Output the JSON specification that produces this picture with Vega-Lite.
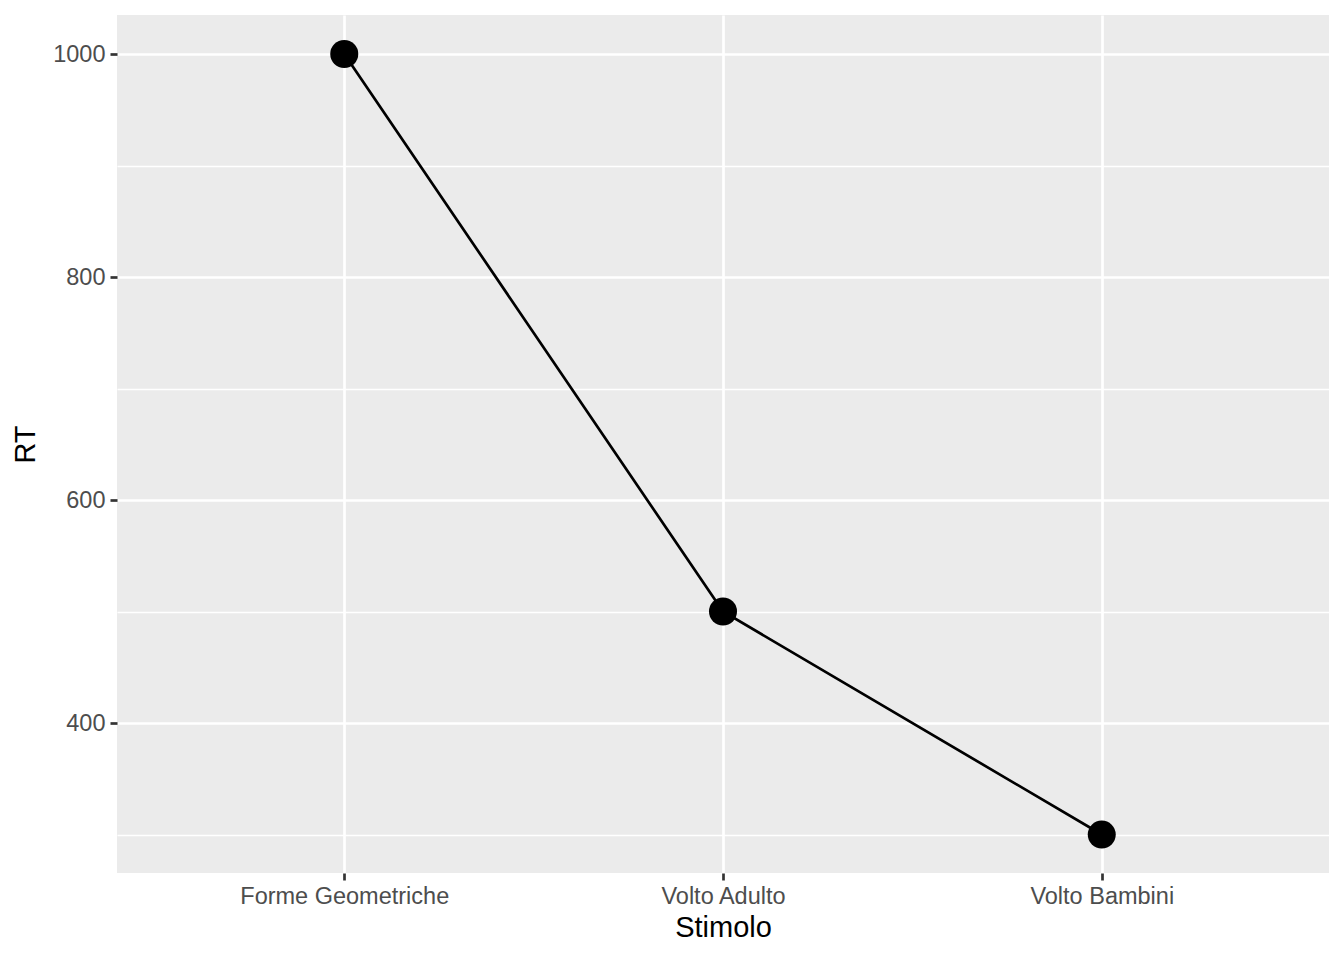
{
  "$schema": "https://vega.github.io/schema/vega-lite/v6.json",
  "width": 1212,
  "height": 858,
  "autosize": {"type": "none"},
  "padding": {"left": 117, "top": 15, "right": 15, "bottom": 87},
  "background": "white",
  "config": {
    "font": "Liberation Sans",
    "view": {"fill": "#EBEBEB", "stroke": null},
    "axis": {
      "domain": false,
      "gridColor": "white",
      "gridWidth": 2.7,
      "tickColor": "#333333",
      "tickSize": 7,
      "tickWidth": 2.7,
      "labelColor": "#4D4D4D",
      "labelFontSize": 23.5,
      "labelLimit": 0,
      "labelFont": "Liberation Sans",
      "titleFont": "Liberation Sans",
      "titleFontSize": 29,
      "titleFontWeight": "normal",
      "titleColor": "black"
    }
  },
  "data": {
    "values": [
      {"Stimolo": "Forme Geometriche", "RT": 1000},
      {"Stimolo": "Volto Adulto", "RT": 500},
      {"Stimolo": "Volto Bambini", "RT": 300}
    ]
  },
  "encoding": {
    "x": {
      "field": "Stimolo",
      "type": "nominal",
      "scale": {"type": "point", "padding": 0.6},
      "axis": {"labelAngle": 0, "labelPadding": 4, "titlePadding": 6, "title": "Stimolo", "grid": true, "labelLimit": 0}
    },
    "y": {
      "field": "RT",
      "type": "quantitative",
      "scale": {"domain": [265.5, 1035], "nice": false, "zero": false},
      "axis": {
        "title": "RT",
        "values": [300, 400, 500, 600, 700, 800, 900, 1000],
        "format": "d",
        "labelExpr": "datum.value % 200 === 100 ? '' : datum.label",
        "gridWidth": {"condition": {"test": "datum.value % 200 === 100", "value": 1.35}, "value": 2.7},
        "tickOpacity": {"condition": {"test": "datum.value % 200 === 100", "value": 0}, "value": 1},
        "labelPadding": 5,
        "titlePadding": 12
      }
    }
  },
  "layer": [
    {"mark": {"type": "line", "color": "black", "strokeWidth": 2.7}},
    {"mark": {"type": "point", "filled": true, "color": "black", "opacity": 1, "size": 785}}
  ]
}
